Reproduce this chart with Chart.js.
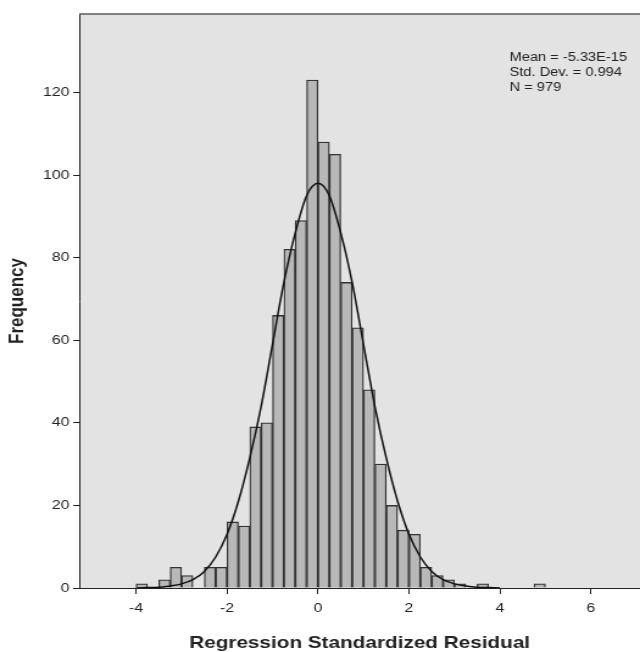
<!DOCTYPE html>
<html>
<head>
<meta charset="utf-8">
<title>Regression Standardized Residual</title>
<script src="https://cdn.jsdelivr.net/npm/chart.js@4.4.0/dist/chart.umd.min.js"></script>
<style>
  html, body { margin: 0; padding: 0; background: #fff; overflow: hidden; }
  #wrap { width: 640px; height: 652px; }
  canvas { display: block; }
</style>
</head>
<body>
<div id="wrap"><canvas id="histChart" width="525" height="652" style="width:640px;height:652px"></canvas></div>
<script>
// histogram bins (width 0.25), centre of each bin and its count
const BIN_CENTERS = [-3.875,-3.625,-3.375,-3.125,-2.875,-2.625,-2.375,-2.125,-1.875,-1.625,-1.375,-1.125,
  -0.875,-0.625,-0.375,-0.125,0.125,0.375,0.625,0.875,1.125,1.375,1.625,1.875,
  2.125,2.375,2.625,2.875,3.125,3.375,3.625,3.875,4.125,4.375,4.625,4.875];
const BIN_COUNTS = [1,0,2,5,3,0,5,5,16,15,39,40,
  66,82,89,123,108,105,74,63,48,30,20,14,
  13,5,3,2,1,0,1,0,0,0,0,1];

// normal curve
const CURVE_X = [-4,-3.75,-3.5,-3.25,-3,-2.75,-2.5,-2.25,-2,-1.75,-1.5,-1.25,-1,-0.75,-0.5,-0.25,0,
  0.25,0.5,0.75,1,1.25,1.5,1.75,2,2.25,2.5,2.75,3,3.25,3.5,3.75,4];
const CURVE_Y = [0,0.1,0.2,0.5,1,2,4,7.5,13,21,31.5,44,59,74,86,95,98,
  95,86,74,59,44,31.5,21,13,7.5,4,2,1,0.5,0.2,0.1,0];

const X_MIN = -5.25, X_MAX = 7.08, X_STEP = 2;
const Y_MIN = 0, Y_MAX = 139, Y_STEP = 20;
const STATS_LINES = ['Mean = -5.33E-15', 'Std. Dev. = 0.994', 'N = 979'];

const INK = '#222';
const FAMILY = '"Liberation Sans", Arial, sans-serif';

// the source picture is stretched sideways, so the canvas is drawn 525px wide
// and shown at 640px
const plotFrame = {
  id: 'plotFrame',
  beforeDraw(chart) {
    const { ctx, chartArea: a } = chart;
    ctx.save();
    ctx.fillStyle = '#e3e3e3';
    ctx.fillRect(a.left, a.top, a.right - a.left, a.bottom - a.top);
    ctx.restore();
  },
  afterDraw(chart) {
    const { ctx, chartArea: a } = chart;
    ctx.save();
    ctx.strokeStyle = '#5a5a5a';
    ctx.lineWidth = 1.5;
    ctx.beginPath();
    ctx.moveTo(a.left, a.top);
    ctx.lineTo(a.right, a.top);
    ctx.stroke();
    ctx.fillStyle = INK;
    ctx.font = '12px ' + FAMILY;
    ctx.textBaseline = 'middle';
    STATS_LINES.forEach((t, i) => ctx.fillText(t, 418, 58 + i * 15));
    ctx.restore();
  }
};

const bars = BIN_CENTERS.map((x, i) => ({ x, y: BIN_COUNTS[i] })).filter(p => p.y > 0);
const curve = CURVE_X.map((x, i) => ({ x, y: CURVE_Y[i] }));

const tickFont = { family: FAMILY, size: 13 };
const titleFont = { family: FAMILY, size: 17, weight: 'bold', lineHeight: 1 };

new Chart(document.getElementById('histChart'), {
  type: 'bar',
  data: {
    datasets: [
      {
        type: 'line',
        data: curve,
        borderColor: '#111',
        borderWidth: 1.5,
        pointRadius: 0,
        fill: false,
        cubicInterpolationMode: 'monotone',
        order: 0
      },
      {
        type: 'bar',
        data: bars,
        backgroundColor: '#b8b8b8',
        borderColor: '#333',
        borderWidth: 1.3,
        barPercentage: 1,
        categoryPercentage: 1,
        order: 1
      }
    ]
  },
  options: {
    responsive: false,
    animation: false,
    devicePixelRatio: 1,
    layout: { padding: { top: 14, left: 0, right: 0, bottom: 0 } },
    plugins: { legend: { display: false }, tooltip: { enabled: false } },
    scales: {
      x: {
        type: 'linear',
        offset: false,
        min: X_MIN,
        max: X_MAX,
        grid: { offset: false, drawOnChartArea: false, drawTicks: true, tickLength: 6, color: INK },
        border: { display: true, color: INK, width: 1 },
        ticks: { stepSize: X_STEP, includeBounds: false, font: tickFont, color: INK, padding: 7, maxRotation: 0 },
        title: { display: true, text: 'Regression Standardized Residual', font: titleFont, color: INK, padding: { top: 0, bottom: 0 } },
        afterFit(scale) { scale.height = 64; }
      },
      y: {
        min: Y_MIN,
        max: Y_MAX,
        grid: { drawOnChartArea: false, drawTicks: true, tickLength: 5, color: INK },
        border: { display: true, color: INK, width: 1 },
        ticks: { stepSize: Y_STEP, includeBounds: false, font: tickFont, color: INK, padding: 3 },
        title: { display: true, text: 'Frequency', font: titleFont, color: INK, padding: { top: 6, bottom: 0 } },
        afterFit(scale) { scale.width = 65; }
      }
    }
  },
  plugins: [plotFrame]
});
</script>
</body>
</html>
